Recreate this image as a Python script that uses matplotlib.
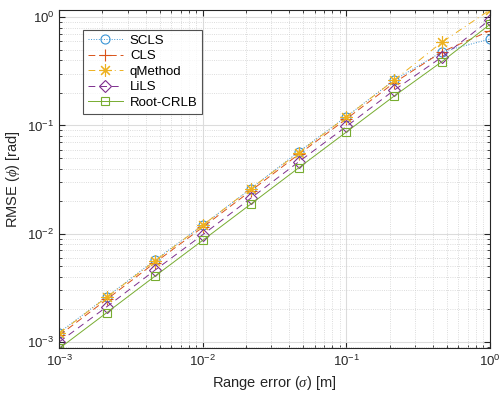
import numpy as np
import matplotlib
matplotlib.use('Agg')
from matplotlib import pyplot as plt
from matplotlib.ticker import LogLocator, NullFormatter

plt.rcParams['font.family'] = ['Liberation Sans', 'DejaVu Sans']
plt.rcParams['mathtext.fontset'] = 'custom'
plt.rcParams['mathtext.rm'] = 'Liberation Sans'
plt.rcParams['mathtext.it'] = 'Liberation Serif:italic'

# range error sigma [m]
sigma = [0.001, 0.00215, 0.00464, 0.01, 0.0215, 0.0464, 0.1, 0.215, 0.464, 1.0]
# RMSE values
scls = [1.22e-3, 2.62e-3, 5.7e-3, 1.2e-2, 2.6e-2, 5.7e-2, 0.121, 0.262, 0.48, 0.63]
cls = [1.15e-3, 2.48e-3, 5.4e-3, 1.15e-2, 2.48e-2, 5.4e-2, 0.115, 0.248, 0.48, 0.75]
qmethod = [1.2e-3, 2.6e-3, 5.6e-3, 1.2e-2, 2.6e-2, 5.6e-2, 0.12, 0.262, 0.59, 1.17]
lils = [1.0e-3, 2.12e-3, 4.6e-3, 9.8e-3, 2.12e-2, 4.6e-2, 0.098, 0.212, 0.43, 0.95]
crlb = [8.7e-4, 1.87e-3, 4.05e-3, 8.7e-3, 1.87e-2, 4.05e-2, 0.087, 0.187, 0.39, 0.86]

fig, ax = plt.subplots(figsize=(5.02, 3.96), dpi=100)
fig.subplots_adjust(left=0.118, right=0.976, top=0.975, bottom=0.12)

lw = 0.7
ax.loglog(sigma, scls, ':', color='#3A95D6', marker='o', mfc='none', ms=6.5, mew=0.8, lw=lw, label='SCLS')
ax.loglog(sigma, cls, '--', color='#D95319', marker='+', ms=9, mew=0.8, lw=lw, label='CLS', dashes=(7, 4))
ax.loglog(sigma, qmethod, '-.', color='#EDB120', marker=(8, 2, 0), ms=9, mew=0.8, lw=lw, label='qMethod',
          dashes=(7, 4, 1, 4))
ax.loglog(sigma, lils, '--', color='#7E2F8E', marker='D', mfc='none', ms=6, mew=0.8, lw=lw, label='LiLS',
          dashes=(7, 5))
ax.loglog(sigma, crlb, '-', color='#77AC30', marker='s', mfc='none', ms=6, mew=0.8, lw=lw, label='Root-CRLB')

ax.set_xlim(1e-3, 1)
ax.set_ylim(8.7e-4, 1.17)
ax.xaxis.set_minor_locator(LogLocator(base=10, subs=np.arange(2, 10)))
ax.yaxis.set_minor_locator(LogLocator(base=10, subs=np.arange(2, 10)))
ax.xaxis.set_minor_formatter(NullFormatter())
ax.yaxis.set_minor_formatter(NullFormatter())

ax.grid(True, which='major', color='#DCDCDC', lw=0.8, ls='-')
ax.grid(True, which='minor', color='#D0D0D0', lw=0.6, ls=':')
ax.set_axisbelow(True)
ax.tick_params(which='both', direction='in', top=True, right=True, labelsize=9.5, colors='#262626')
ax.tick_params(which='major', length=4)
ax.tick_params(which='minor', length=2)
for s in ax.spines.values():
    s.set_color('#262626')
    s.set_linewidth(0.8)

ax.set_xlabel(r'Range error ($\sigma$) [m]', fontsize=10.5, color='#262626')
ax.set_ylabel(r'RMSE ($\phi$) [rad]', fontsize=10.5, color='#262626')

leg = ax.legend(loc='upper left', bbox_to_anchor=(0.04, 0.96), fancybox=False, fontsize=9.5,
                handlelength=2.7, borderpad=0.35, labelspacing=0.25, handletextpad=0.5,
                edgecolor='#262626')
leg.get_frame().set_linewidth(0.8)

plt.savefig('out.png', dpi=100)
